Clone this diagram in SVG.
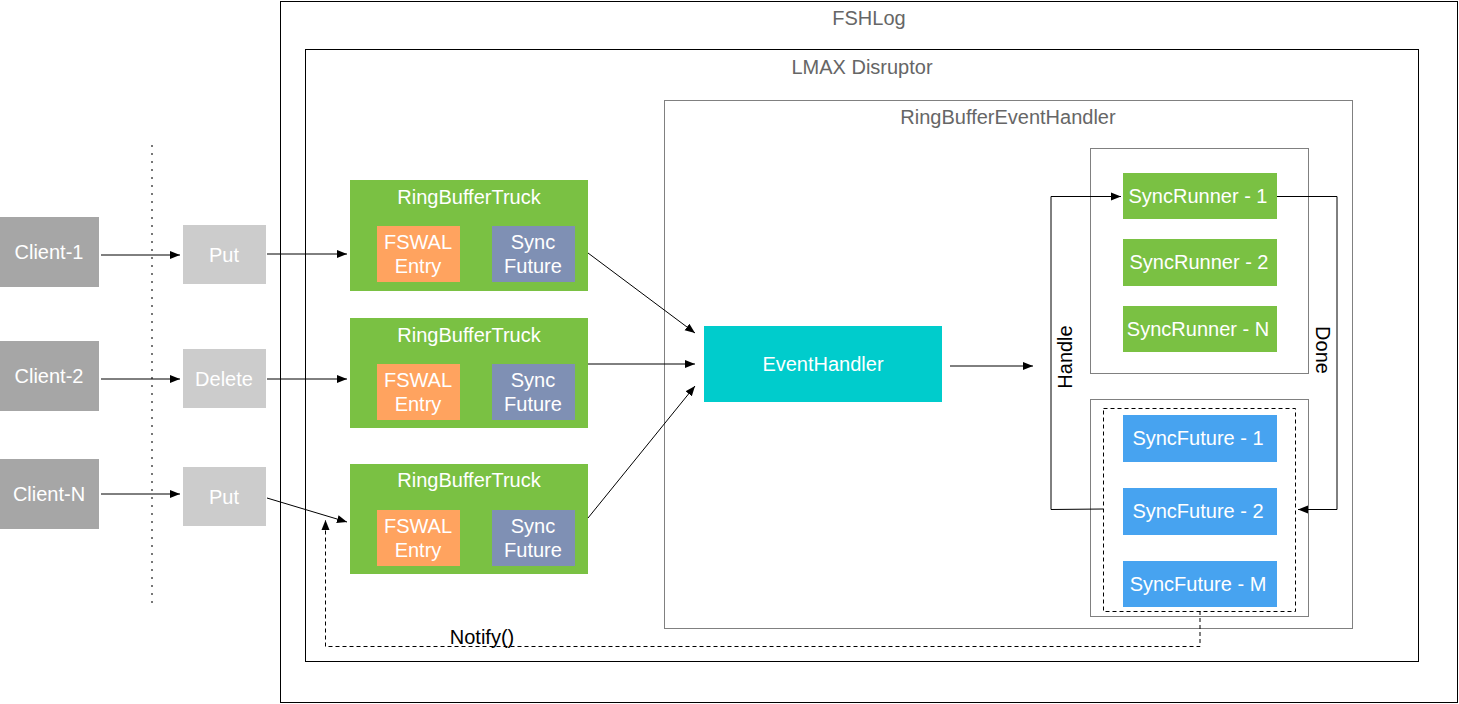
<svg xmlns="http://www.w3.org/2000/svg" width="1459" height="704" viewBox="0 0 1459 704">
<style>
text{font-family:"Liberation Sans",Arial,sans-serif;text-anchor:middle;dominant-baseline:central}
.w{fill:#fff;font-size:20px}
.g{fill:#666;font-size:20px}
.k{fill:#000;font-size:20px}
.conn{fill:none;stroke:#000;stroke-width:1}
.dash{fill:none;stroke:#000;stroke-width:1;stroke-dasharray:4 3}
.client{fill:#a6a6a6}
.op{fill:#cccccc}
.truck{fill:#7ac143}
.fswal{fill:#ffa35f}
.sf{fill:#7f90b4}
.runner{fill:#7ac143}
.fut{fill:#47a3f0}
.cont{fill:none;stroke:#808080;stroke-width:1}
</style>
<defs>
<marker id="ah" viewBox="0 0 10 10" refX="10" refY="5" markerWidth="10" markerHeight="10" markerUnits="userSpaceOnUse" orient="auto">
<path d="M0,1 L10,5 L0,9 Z" fill="#000"/>
</marker>
</defs>
<rect width="1459" height="704" fill="#fff"/>
<g id="fshlog"><rect x="280.5" y="1.5" width="1177" height="701" fill="none" stroke="#000"/><text class="g" x="869" y="18">FSHLog</text></g>
<g id="lmax"><rect x="305.5" y="49.5" width="1113" height="612" fill="none" stroke="#000"/><text class="g" x="862" y="67">LMAX Disruptor</text></g>
<g id="rbeh"><rect x="664.5" y="100.5" width="688" height="528" class="cont"/><text class="g" x="1008" y="117">RingBufferEventHandler</text></g>
<line x1="152" y1="145" x2="152" y2="606" stroke="#777" stroke-width="2" stroke-dasharray="2 6"/>
<g id="client1"><rect class="client" x="0" y="217" width="99" height="70"/><text class="w" x="49" y="252">Client-1</text></g>
<g id="client2"><rect class="client" x="0" y="341" width="99" height="70"/><text class="w" x="49" y="376">Client-2</text></g>
<g id="clientN"><rect class="client" x="0" y="459" width="99" height="70"/><text class="w" x="49" y="494">Client-N</text></g>
<g id="put1"><rect class="op" x="183" y="225" width="83" height="59"/><text class="w" x="224" y="255">Put</text></g>
<g id="delete"><rect class="op" x="183" y="349" width="83" height="59"/><text class="w" x="224" y="379">Delete</text></g>
<g id="putN"><rect class="op" x="183" y="467" width="83" height="59"/><text class="w" x="224" y="497">Put</text></g>
<g id="truck1"><rect class="truck" x="350" y="180" width="238" height="111"/><text class="w" x="469" y="197">RingBufferTruck</text>
<rect class="fswal" x="377" y="226" width="83" height="56"/><text class="w" x="418" y="242">FSWAL</text><text class="w" x="418" y="266">Entry</text>
<rect class="sf" x="492" y="226" width="83" height="56"/><text class="w" x="533" y="242">Sync</text><text class="w" x="533" y="266">Future</text></g>
<g id="truck2"><rect class="truck" x="350" y="318" width="238" height="110"/><text class="w" x="469" y="335">RingBufferTruck</text>
<rect class="fswal" x="377" y="364" width="83" height="56"/><text class="w" x="418" y="380">FSWAL</text><text class="w" x="418" y="404">Entry</text>
<rect class="sf" x="492" y="364" width="83" height="56"/><text class="w" x="533" y="380">Sync</text><text class="w" x="533" y="404">Future</text></g>
<g id="truck3"><rect class="truck" x="350" y="464" width="238" height="110"/><text class="w" x="469" y="480">RingBufferTruck</text>
<rect class="fswal" x="377" y="510" width="83" height="56"/><text class="w" x="418" y="526">FSWAL</text><text class="w" x="418" y="550">Entry</text>
<rect class="sf" x="492" y="510" width="83" height="56"/><text class="w" x="533" y="526">Sync</text><text class="w" x="533" y="550">Future</text></g>
<g id="eventhandler"><rect x="704" y="326" width="238" height="76" fill="#00cccc"/><text class="w" x="823" y="364">EventHandler</text></g>
<g id="runners"><rect class="cont" x="1090.5" y="148.5" width="218" height="225"/></g>
<g id="runner1"><rect class="runner" x="1123" y="173" width="154" height="46"/><text class="w" x="1198" y="196">SyncRunner - 1</text></g>
<g id="runner2"><rect class="runner" x="1123" y="239" width="154" height="47"/><text class="w" x="1199" y="262">SyncRunner - 2</text></g>
<g id="runnerN"><rect class="runner" x="1123" y="306" width="154" height="46"/><text class="w" x="1198" y="329">SyncRunner - N</text></g>
<g id="futures"><rect class="cont" x="1090.5" y="399.5" width="218" height="217"/><rect class="dash" x="1103.5" y="408.5" width="192" height="203"/></g>
<g id="future1"><rect class="fut" x="1123" y="415" width="154" height="47"/><text class="w" x="1198" y="438">SyncFuture - 1</text></g>
<g id="future2"><rect class="fut" x="1123" y="488" width="154" height="47"/><text class="w" x="1198" y="511">SyncFuture - 2</text></g>
<g id="futureM"><rect class="fut" x="1123" y="561" width="154" height="46"/><text class="w" x="1198" y="584">SyncFuture - M</text></g>
<g id="connectors">
<line class="conn" x1="101" y1="255" x2="180" y2="255" marker-end="url(#ah)"/>
<line class="conn" x1="101" y1="379" x2="180" y2="379" marker-end="url(#ah)"/>
<line class="conn" x1="101" y1="494" x2="180" y2="494" marker-end="url(#ah)"/>
<line class="conn" x1="267" y1="254" x2="347" y2="254" marker-end="url(#ah)"/>
<line class="conn" x1="267" y1="379" x2="347" y2="379" marker-end="url(#ah)"/>
<line class="conn" x1="267" y1="498" x2="347" y2="522" marker-end="url(#ah)"/>
<line class="conn" x1="588" y1="253" x2="695" y2="333" marker-end="url(#ah)"/>
<line class="conn" x1="588" y1="364" x2="695" y2="364" marker-end="url(#ah)"/>
<line class="conn" x1="588" y1="518" x2="695" y2="386" marker-end="url(#ah)"/>
<line class="conn" x1="950" y1="366" x2="1033" y2="366" marker-end="url(#ah)"/>
<polyline class="conn" points="1103,509 1051,509.5 1051,196.5 1121,196.5" marker-end="url(#ah)"/>
<polyline class="conn" points="1277,196.5 1337,196.5 1337,509.5 1298,509.5" marker-end="url(#ah)"/>
<polyline class="dash" points="1200,611 1200,646.5 325.5,646.5 325.5,520" marker-end="url(#ah)"/>
<text class="k" transform="translate(1065,357) rotate(-90)">Handle</text>
<text class="k" transform="translate(1323,350) rotate(90)">Done</text>
<text class="k" x="482" y="637">Notify()</text>
</g>
</svg>
